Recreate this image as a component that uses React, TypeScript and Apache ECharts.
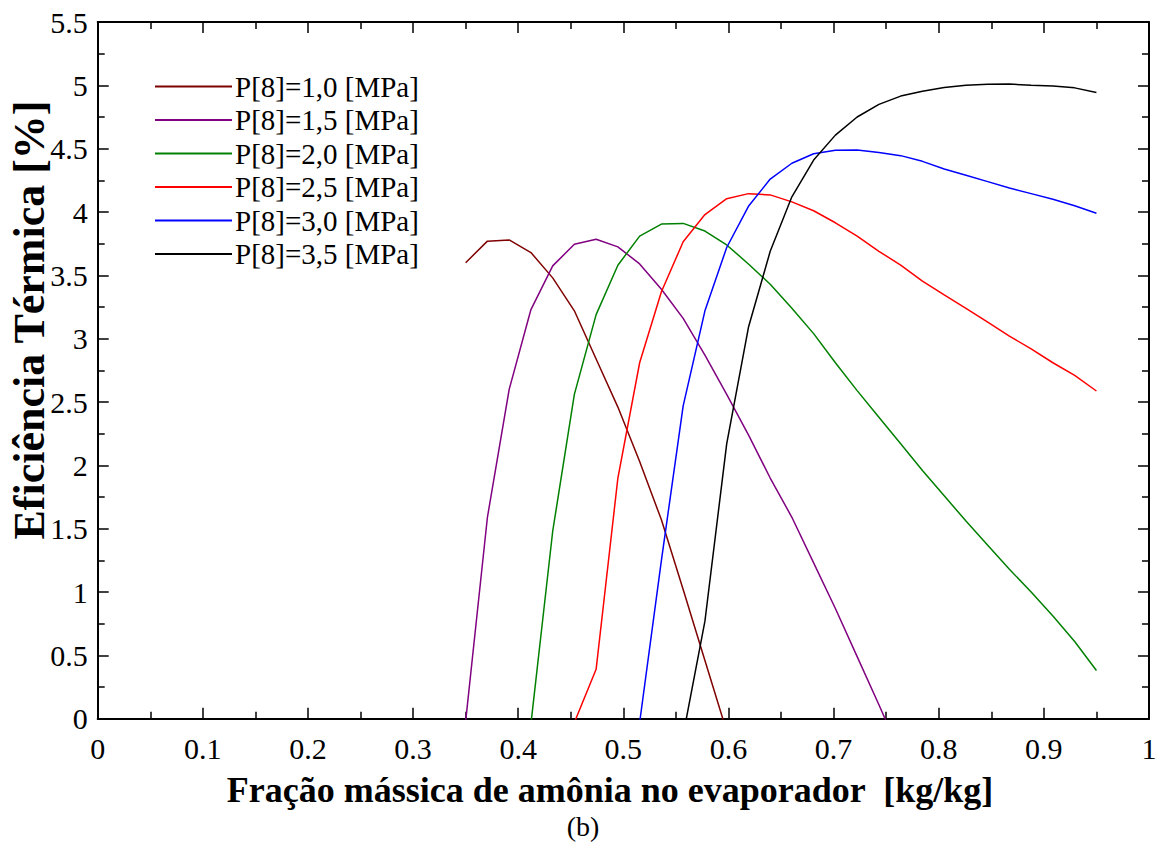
import React, { useEffect, useRef } from "react";
import * as echarts from "echarts";

const X = [0.35, 0.3707, 0.3914, 0.4121, 0.4328, 0.4534, 0.4741, 0.4948, 0.5155, 0.5362, 0.5569, 0.5776, 0.5983, 0.619, 0.6397, 0.6603, 0.681, 0.7017, 0.7224, 0.7431, 0.7638, 0.7845, 0.8052, 0.8259, 0.8466, 0.8672, 0.8879, 0.9086, 0.9293, 0.95];

const P10 = [3.60, 3.77, 3.78, 3.68, 3.48, 3.22, 2.84, 2.46, 2.03, 1.57, 1.02, 0.46, -0.10, null, null, null, null, null, null, null, null, null, null, null, null, null, null, null, null, null];
const P15 = [-0.02, 1.59, 2.60, 3.23, 3.575, 3.745, 3.785, 3.725, 3.59, 3.39, 3.16, 2.87, 2.56, 2.24, 1.90, 1.59, 1.23, 0.87, 0.49, 0.11, -0.28, null, null, null, null, null, null, null, null, null];
const P20 = [null, null, null, -0.04, 1.48, 2.56, 3.19, 3.58, 3.81, 3.905, 3.91, 3.85, 3.74, 3.59, 3.43, 3.24, 3.04, 2.81, 2.59, 2.38, 2.17, 1.96, 1.76, 1.56, 1.37, 1.18, 1.00, 0.81, 0.61, 0.38];
const P25 = [null, null, null, null, null, -0.03, 0.39, 1.90, 2.81, 3.37, 3.765, 3.98, 4.105, 4.145, 4.135, 4.08, 4.01, 3.915, 3.81, 3.69, 3.58, 3.455, 3.345, 3.24, 3.13, 3.02, 2.92, 2.81, 2.71, 2.587];
const P30 = [null, null, null, null, null, null, null, null, -0.03, 1.25, 2.47, 3.22, 3.72, 4.045, 4.26, 4.385, 4.46, 4.488, 4.49, 4.47, 4.445, 4.40, 4.34, 4.29, 4.24, 4.19, 4.145, 4.10, 4.05, 3.99];
const P35 = [null, null, null, null, null, null, null, null, null, null, -0.13, 0.77, 2.17, 3.09, 3.69, 4.12, 4.41, 4.607, 4.75, 4.85, 4.915, 4.954, 4.983, 5.0, 5.009, 5.01, 5.0, 4.994, 4.98, 4.944];

const SERIES_NAMES = ["P[8]=1,0 [MPa]", "P[8]=1,5 [MPa]", "P[8]=2,0 [MPa]", "P[8]=2,5 [MPa]", "P[8]=3,0 [MPa]", "P[8]=3,5 [MPa]"];
const SERIES_VALUES = [P10, P15, P20, P25, P30, P35];
const COLORS = ["#7f0000", "#800080", "#008000", "#ff0000", "#0000ff", "#000000"];

const X_TITLE = "Fração mássica de amônia no evaporador  [kg/kg]";
const Y_TITLE = "Eficiência Térmica [%]";
const CAPTION = "(b)";

const FONT = "Liberation Serif";

export default function App() {
  const ref = useRef<HTMLDivElement>(null);
  useEffect(() => {
    if (!ref.current) return;
    const chart = echarts.init(ref.current, undefined, { renderer: "svg" });
    const G = { left: 97.7, top: 22, width: 1051.3, height: 696.7 };
    const axisCommon = {
      axisLine: { show: true, onZero: false, lineStyle: { color: "#000", width: 2 } },
      axisTick: { show: true, inside: true, length: 11, lineStyle: { color: "#000", width: 1.5 } },
      minorTick: { show: true, splitNumber: 2, length: 7, lineStyle: { color: "#000", width: 1.5 } },
      splitLine: { show: false },
    };
    const series = SERIES_VALUES.map((vals, i) => ({
      name: SERIES_NAMES[i],
      type: "line",
      data: vals.map((v, k) => [X[k], v]),
      symbol: "none",
      showSymbol: false,
      connectNulls: false,
      clip: true,
      color: COLORS[i],
      lineStyle: { color: COLORS[i], width: 1.5 },
      itemStyle: { color: COLORS[i] },
      xAxisIndex: 0,
      yAxisIndex: 0,
    }));
    chart.setOption({
      animation: false,
      backgroundColor: "#fff",
      textStyle: { fontFamily: FONT },
      grid: { ...G, containLabel: false },
      legend: {
        show: true,
        orient: "vertical",
        left: 155,
        top: 72,
        padding: 0,
        itemWidth: 77,
        itemHeight: 2,
        itemGap: 4.5,
        icon: "path://M0,0 L77,0 L77,2 L0,2 Z",
        data: SERIES_NAMES,
        textStyle: { fontFamily: FONT, fontSize: 29, color: "#000", padding: [0, 0, 0, -2] },
      },
      xAxis: [
        {
          type: "value", min: 0, max: 1, interval: 0.1, position: "bottom",
          ...axisCommon,
          axisLabel: { show: true, fontFamily: FONT, fontSize: 30, color: "#000", margin: 15 },
        },
        {
          type: "value", min: 0, max: 1, interval: 0.1, position: "top",
          ...axisCommon,
          axisLabel: { show: false },
        },
      ],
      yAxis: [
        {
          type: "value", min: 0, max: 5.5, interval: 0.5, position: "left",
          ...axisCommon,
          axisLabel: { show: true, fontFamily: FONT, fontSize: 30, color: "#000", margin: 10 },
        },
        {
          type: "value", min: 0, max: 5.5, interval: 0.5, position: "right",
          ...axisCommon,
          axisLabel: { show: false },
        },
      ],
      graphic: [
        {
          type: "text", x: 610, y: 790,
          style: { text: X_TITLE, fontFamily: FONT, fontSize: 36, fontWeight: "bold", fill: "#000", align: "center", verticalAlign: "middle" },
        },
        {
          type: "text", x: 29, y: 320, rotation: Math.PI / 2,
          style: { text: Y_TITLE, fontFamily: FONT, fontSize: 44, fontWeight: "bold", fill: "#000", align: "center", verticalAlign: "middle" },
        },
        {
          type: "text", x: 583, y: 826,
          style: { text: CAPTION, fontFamily: FONT, fontSize: 28, fill: "#000", align: "center", verticalAlign: "middle" },
        },
      ],
      series,
    });
    return () => chart.dispose();
  }, []);
  return (
    <div
      ref={ref}
      style={{ position: "fixed", left: 0, top: 0, width: 1165, height: 843, background: "#fff" }}
    />
  );
}
